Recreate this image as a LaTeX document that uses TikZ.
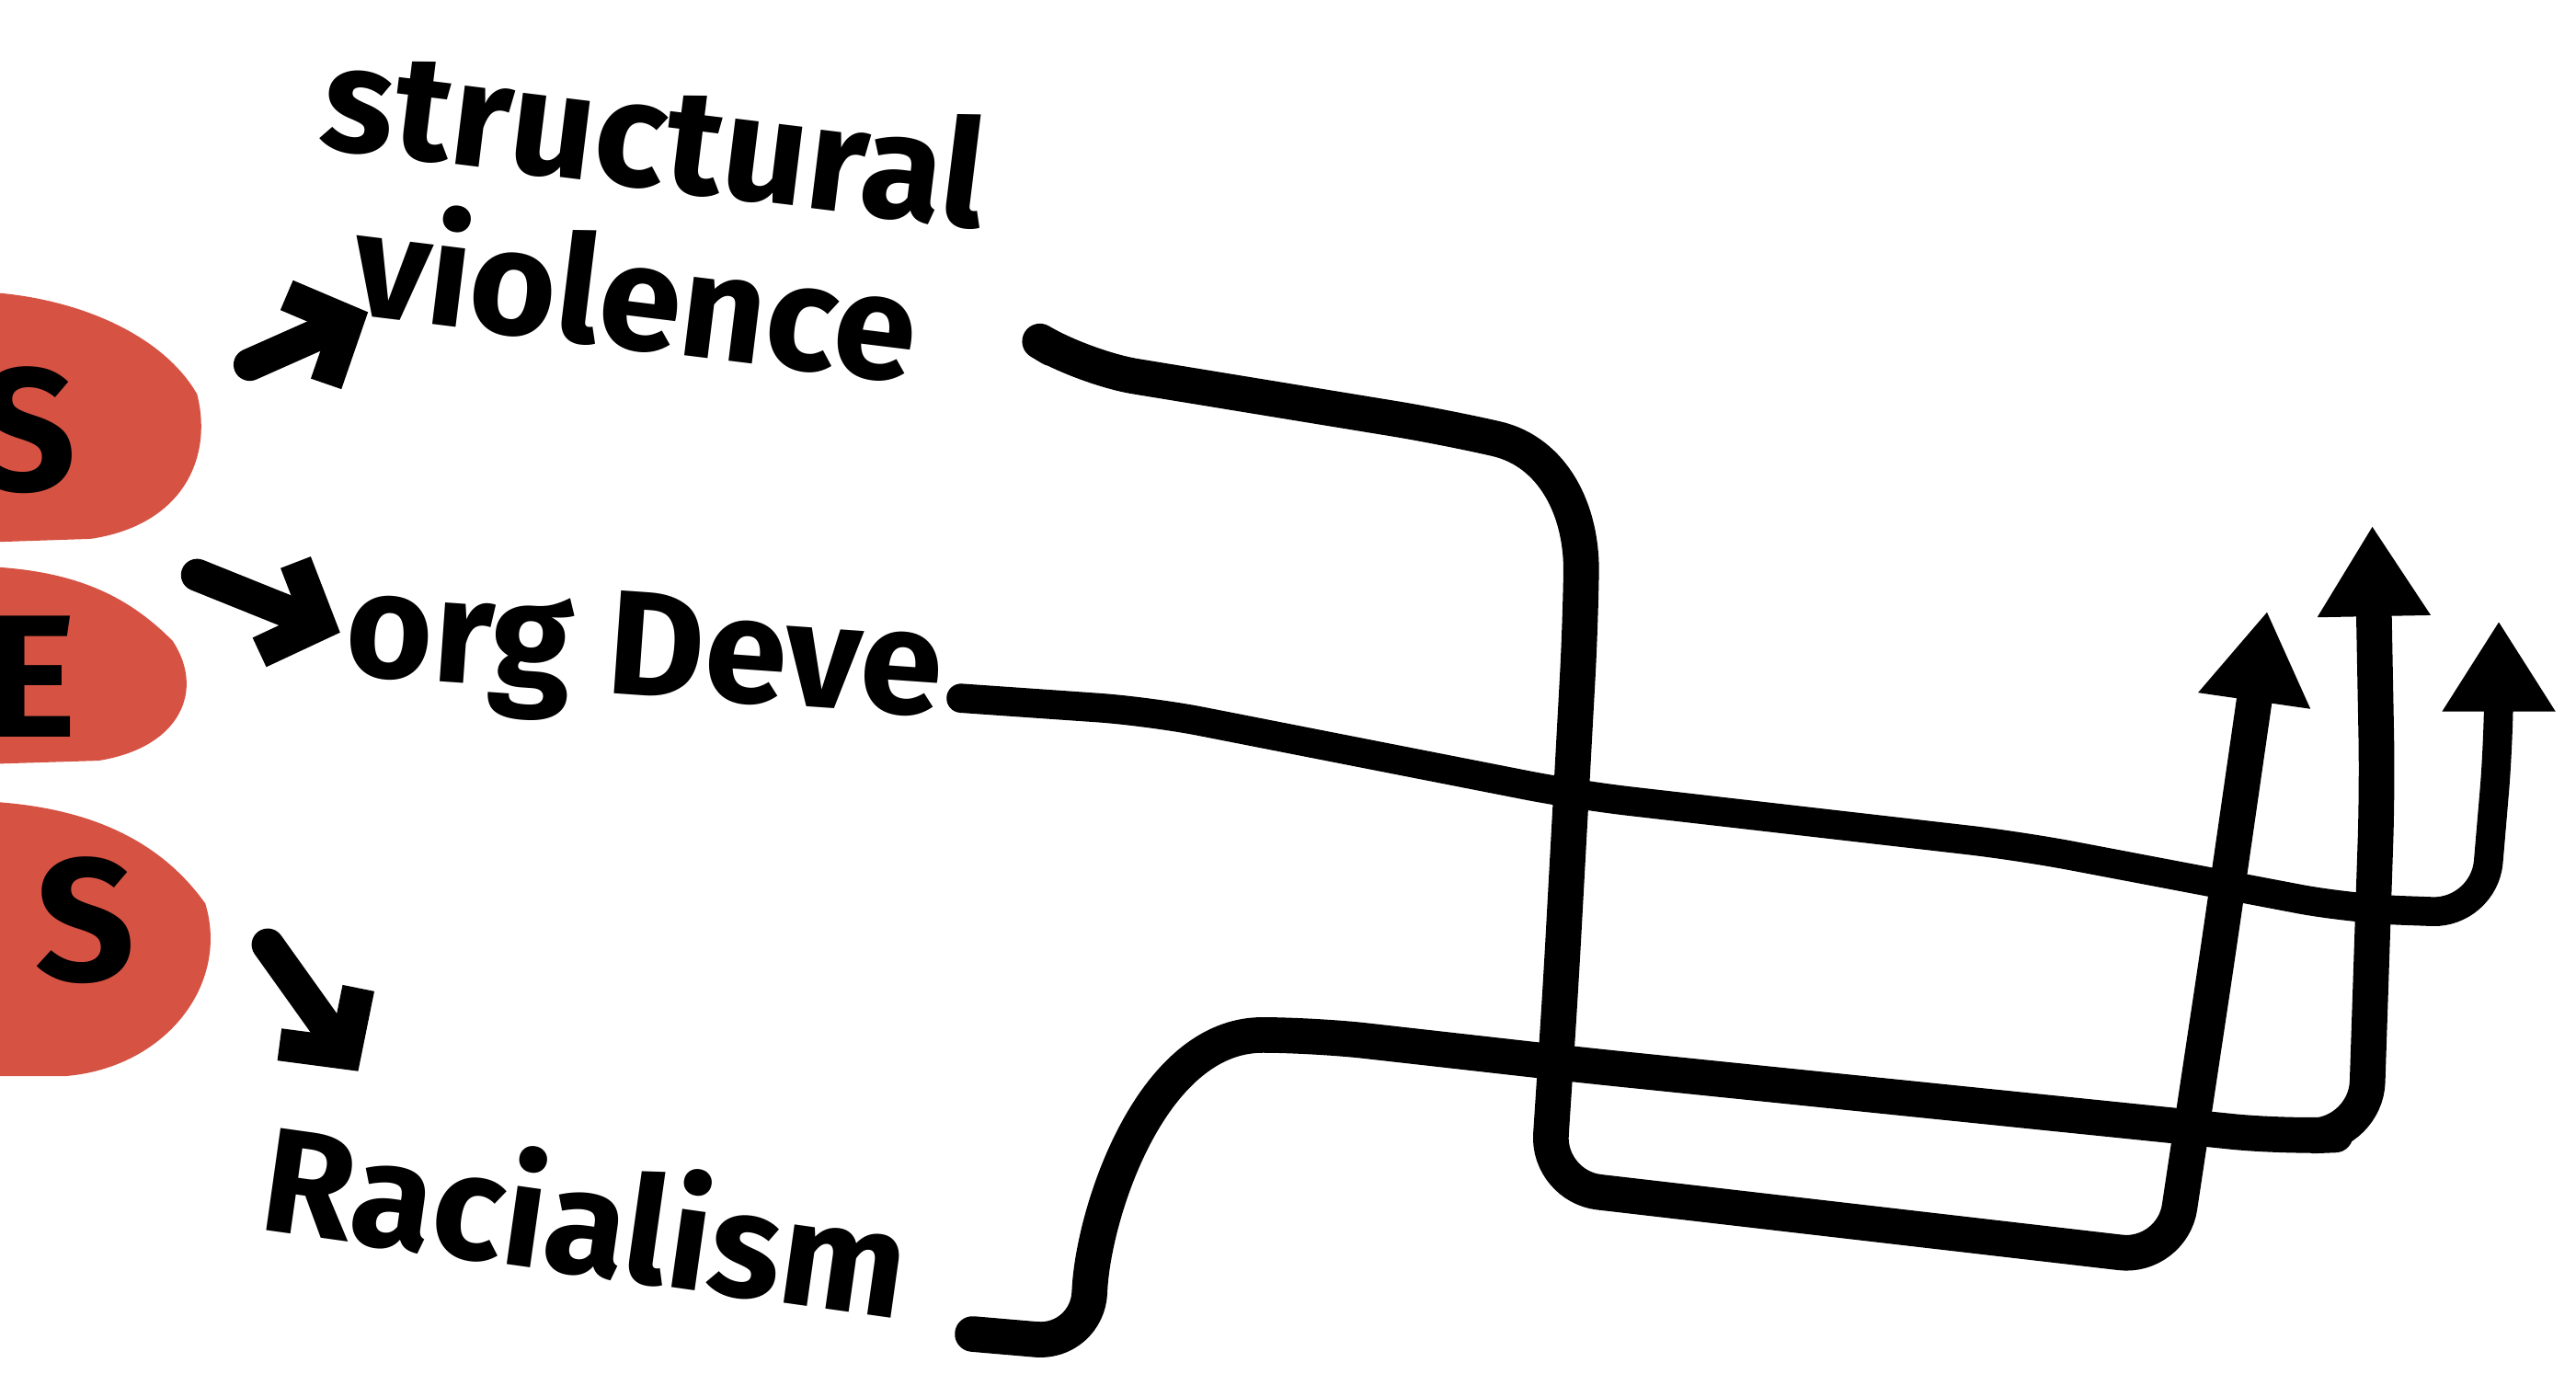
\documentclass[tikz,border=0pt]{standalone}
\usepackage{xcolor}
\usepackage{tikz}
\usepackage{fontspec}
\setmainfont{Fira Sans}
\usetikzlibrary{arrows.meta,positioning}
\definecolor{BlobRed}{RGB}{214,83,68}

\tikzset{
  hand/.style={font=\bfseries\fontsize{46}{50}\selectfont, inner sep=0pt, align=center},
  blobtext/.style={hand, font=\bfseries\fontsize{54}{58}\selectfont},
  tick/.style={line width=10pt, line cap=round, line join=round,
    -{Straight Barb[length=14pt,width=30pt]}},
  wire/.style={line width=11pt, line cap=round, line join=round, rounded corners=16pt,
    -{Triangle[length=28pt,width=33pt,fill=black]}}
}

\begin{document}
\begin{tikzpicture}[x=0.01786cm, y=-0.01786cm]
  \useasboundingbox (0,0) rectangle (1568,850);
  \clip (0,0) rectangle (1568,850);

  % red blobs cut by the left edge
  \fill[BlobRed] (-5,178) .. controls (50,182) and (100,205) .. (120,240)
    .. controls (130,280) and (110,320) .. (55,328) -- (-5,330) -- cycle;
  \fill[BlobRed] (-5,345) .. controls (50,348) and (80,365) .. (105,390)
    .. controls (125,420) and (110,455) .. (60,463) -- (-5,465) -- cycle;
  \fill[BlobRed] (-5,488) .. controls (60,492) and (100,515) .. (125,550)
    .. controls (140,600) and (100,650) .. (40,655) -- (-5,655) -- cycle;
  \node[blobtext] (sOne) at (16,262) {S};
  \node[blobtext] (eTwo) at (19,412) {E};
  \node[blobtext] (sThree) at (52,560) {S};

  % labels
  \node[hand, rotate=-7] (strviol) at (393,130) {structural\\violence};
  \node[hand, rotate=-4] (orgdeve) at (392,402) {org Deve};
  \node[hand, rotate=-8] (racial) at (357,740) {Racialism};

  % short arrows from the blobs
  \coordinate (tOneA) at (152,222);
  \coordinate (tOneB) at (224,190);
  \coordinate (tTwoA) at (120,350);
  \coordinate (tTwoB) at (207,385);
  \coordinate (tThreeA) at (163,575);
  \coordinate (tThreeB) at (218,652);
  \draw[tick] (tOneA) -- (tOneB);
  \draw[tick] (tTwoA) -- (tTwoB);
  \draw[tick] (tThreeA) -- (tThreeB);

  % long wires to the three heads
  \coordinate (aStart) at (640,212);
  \coordinate (aTip) at (1380,372);
  \coordinate (bStart) at (585,425);
  \coordinate (bTip) at (1521,378);
  \coordinate (cStart) at (592,812);
  \coordinate (cTip) at (1444,320);
  \draw[wire] (aStart) -- (660,224) -- (880,260)
    .. controls (945,275) and (963,310) .. (962,380)
    -- (950,600) -- (942,722) -- (1322,766) -- (1350,580) -- (aTip);
  \draw[wire, line width=9pt] (bStart) -- (700,433) -- (960,484) -- (1230,515)
    -- (1430,553) -- (1512,556) -- (1521,450) -- (bTip);
  \draw[wire] (cStart) -- (662,818) .. controls (665,740) and (700,630) .. (800,630)
    -- (960,648) -- (1390,692) -- (1440,690) -- (1447,480) -- (cTip);
\end{tikzpicture}
\end{document}
